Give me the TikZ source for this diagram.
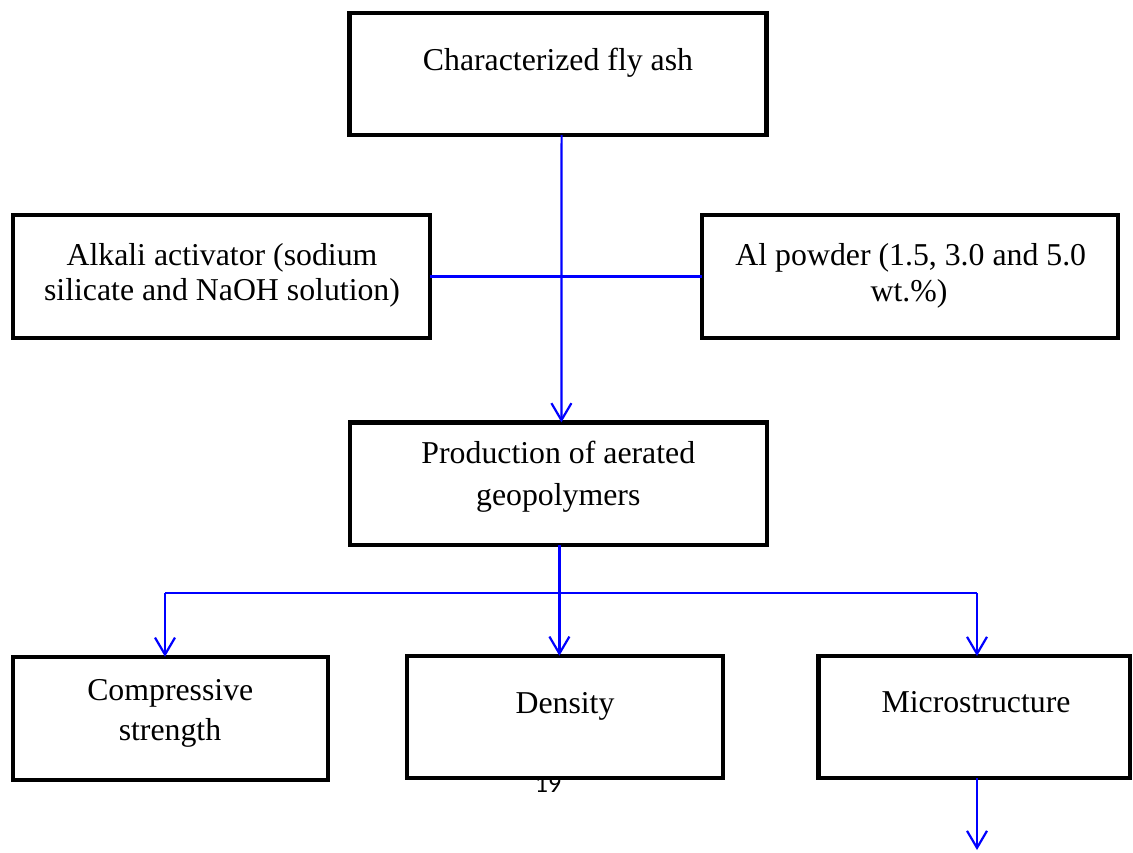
\documentclass[tikz,border=0pt]{standalone}
\usepackage{fontspec}
\setmainfont{Liberation Serif}
\newfontfamily\pagefont{Carlito}
\usetikzlibrary{arrows.meta}
\begin{document}
\begin{tikzpicture}[x=1pt,y=-1pt,
  box/.style={draw=black,line width=4.5pt,fill=white,rectangle,inner sep=0pt,outer sep=0pt},
  txt/.style={anchor=base,inner sep=0pt,font=\fontsize{31.8}{38}\selectfont},
  link/.style={draw={rgb,255:red,0;green,0;blue,255},line width=2.2pt},
  arr/.style={link,-{Straight Barb[length=17pt,width=20pt]}}]
\useasboundingbox (0,0) rectangle (1133,852);
% page number (partly hidden by the box)
\node[anchor=base,inner sep=0pt,font=\pagefont\fontsize{26}{30}\selectfont] (pg) at (548,792) {19};
% boxes
\node[box,minimum width=417.2pt,minimum height=122pt] (b1) at (558.1,74) {};
\node[box,minimum width=417.3pt,minimum height=123pt] (b2) at (221.4,276.5) {};
\node[box,minimum width=416.3pt,minimum height=123pt] (b3) at (909.9,276.5) {};
\node[box,minimum width=416.7pt,minimum height=122.7pt] (b4) at (558.4,483.7) {};
\node[box,minimum width=315.3pt,minimum height=123.3pt] (b5) at (170.4,718.4) {};
\node[box,minimum width=316.3pt,minimum height=122.3pt] (b6) at (564.9,716.9) {};
\node[box,minimum width=311.7pt,minimum height=122pt] (b7) at (974.2,717) {};
% texts
\node[txt] (t1) at (558,70) {Characterized fly ash};
\node[txt] (t2a) at (222,265) {Alkali activator (sodium};
\node[txt] (t2b) at (222,300) {silicate and NaOH solution)};
\node[txt] (t3a) at (910.8,265) {Al powder (1.5, 3.0 and 5.0};
\node[txt] (t3b) at (909,301.7) {wt.\%)};
\node[txt] (t4a) at (558.3,463.3) {Production of aerated};
\node[txt] (t4b) at (558.3,505) {geopolymers};
\node[txt] (t5a) at (170.3,700) {Compressive};
\node[txt] (t5b) at (170,740) {strength};
\node[txt] (t6) at (565,713) {Density};
\node[txt] (t7) at (976,712.7) {Microstructure};
% connectors
\draw[link] (b2.east) -- (b3.west);
\draw[arr] ([xshift=3.5pt]b1.south) -- ([xshift=3pt]b4.north);
\coordinate (jl) at (165,593);
\coordinate (jr) at (977,593);
\coordinate (jm) at (559.4,593);
\coordinate (endp) at (977,850);
\draw[arr] (b4.south -| jm) -- (jm |- b6.north);
\draw[link] (jl) -- (jr);
\draw[arr] (jl) -- (jl |- b5.north);
\draw[arr] (jr) -- (jr |- b7.north);
\draw[arr] (b7.south -| endp) -- (endp);
\end{tikzpicture}
\end{document}
